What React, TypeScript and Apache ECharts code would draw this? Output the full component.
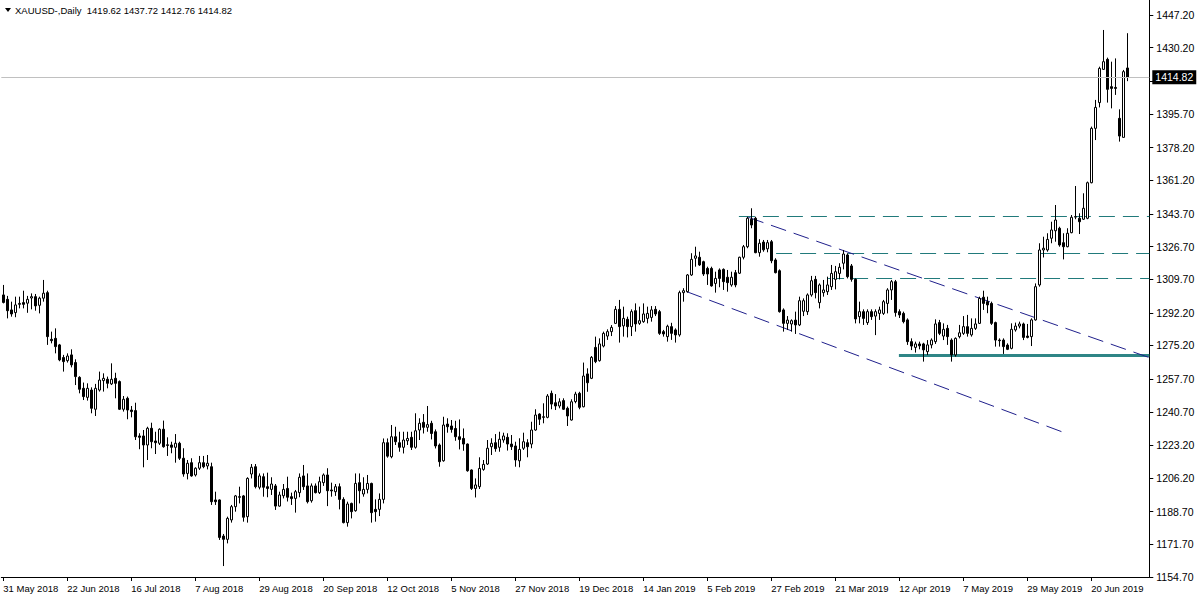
import React, { useEffect, useRef } from "react";
import * as echarts from "echarts";

// ---- OHLC data (XAUUSD daily, 31 May 2018 .. 3 Jul 2019) ----
const OPEN = [
  1301.5, 1299.2, 1293.7, 1292.3, 1296.6, 1297.5, 1297.2, 1299.9, 1300.6, 1296.1,
  1299.8, 1302.7, 1278.4, 1278.9, 1275.5, 1268.9, 1267.3, 1270.3, 1266.3, 1258.6,
  1252.9, 1248.2, 1252.0, 1242.0, 1252.0, 1256.9, 1257.6, 1255.2, 1258.1, 1256.4,
  1242.0, 1247.7, 1241.6, 1241.3, 1228.1, 1228.1, 1223.4, 1232.1, 1225.5, 1224.3,
  1231.6, 1223.5, 1223.4, 1222.2, 1224.3, 1216.5, 1208.6, 1214.2, 1207.8, 1211.3,
  1214.2, 1212.5, 1212.1, 1194.8, 1194.8, 1176.0, 1174.3, 1184.4, 1191.3, 1196.5,
  1196.9, 1186.1, 1208.3, 1212.1, 1201.4, 1206.9, 1201.7, 1200.3, 1202.1, 1191.6,
  1197.0, 1200.8, 1196.5, 1195.6, 1198.6, 1207.3, 1202.1, 1194.4, 1202.1, 1198.6,
  1203.8, 1207.8, 1200.0, 1199.1, 1201.7, 1195.1, 1183.0, 1193.0, 1189.2, 1203.8,
  1197.9, 1200.3, 1203.4, 1189.9, 1189.9, 1195.1, 1224.6, 1217.3, 1227.7, 1224.6,
  1222.2, 1225.6, 1227.4, 1222.2, 1231.2, 1235.2, 1232.6, 1234.7, 1230.3, 1223.4,
  1215.2, 1234.3, 1233.3, 1232.0, 1227.7, 1226.8, 1223.9, 1210.4, 1200.8, 1201.7,
  1210.7, 1213.5, 1222.5, 1224.6, 1222.2, 1226.0, 1227.4, 1223.9, 1222.9, 1215.2,
  1221.7, 1224.6, 1223.9, 1231.2, 1239.5, 1238.1, 1237.8, 1250.3, 1245.4, 1243.7,
  1246.5, 1242.5, 1236.4, 1246.0, 1250.3, 1243.3, 1260.4, 1258.1, 1274.2, 1267.3,
  1274.9, 1280.1, 1282.4, 1286.7, 1294.0, 1285.4, 1288.8, 1285.0, 1293.3, 1286.7,
  1287.6, 1289.3, 1289.8, 1294.0, 1292.8, 1282.4, 1279.8, 1285.0, 1283.3, 1280.7,
  1302.7, 1303.2, 1311.9, 1320.6, 1321.1, 1318.8, 1315.3, 1315.3, 1307.5, 1314.5,
  1314.8, 1310.7, 1306.7, 1313.1, 1312.8, 1321.1, 1326.6, 1340.9, 1341.4, 1323.5,
  1329.0, 1325.5, 1329.2, 1319.7, 1314.1, 1293.7, 1286.7, 1286.4, 1288.4, 1285.9,
  1293.0, 1292.8, 1301.5, 1309.6, 1297.5, 1302.7, 1303.2, 1305.8, 1309.6, 1312.7,
  1318.0, 1322.3, 1316.6, 1309.6, 1290.2, 1292.8, 1287.1, 1292.8, 1290.5, 1291.9,
  1291.9, 1297.1, 1304.1, 1308.4, 1292.8, 1291.9, 1288.5, 1277.2, 1274.2, 1276.0,
  1276.0, 1272.0, 1275.5, 1277.2, 1287.1, 1280.1, 1284.1, 1278.0, 1270.3, 1279.8,
  1281.5, 1285.0, 1280.7, 1284.1, 1286.7, 1300.3, 1298.0, 1297.1, 1287.1, 1278.0,
  1278.0, 1275.4, 1273.7, 1283.3, 1285.3, 1286.4, 1280.1, 1279.8, 1288.5, 1306.7,
  1324.9, 1324.9, 1331.0, 1334.9, 1336.2, 1328.7, 1326.6, 1333.9, 1342.0, 1341.4,
  1340.9, 1341.4, 1359.9, 1388.2, 1401.6, 1418.9, 1424.1, 1409.9, 1409.5, 1393.4,
  1383.5, 1419.62,
];
const HIGH = [
  1306.7, 1301.0, 1298.0, 1300.6, 1300.6, 1303.7, 1301.0, 1302.3, 1302.0, 1300.6,
  1309.3, 1303.7, 1282.4, 1284.1, 1276.0, 1270.3, 1271.1, 1273.2, 1268.0, 1259.2,
  1255.9, 1255.5, 1253.4, 1255.2, 1261.6, 1260.7, 1259.0, 1265.9, 1261.0, 1257.0,
  1248.9, 1248.6, 1243.7, 1245.4, 1229.5, 1231.2, 1232.9, 1235.0, 1230.3, 1232.1,
  1236.1, 1227.4, 1225.1, 1229.1, 1225.1, 1221.7, 1215.6, 1216.5, 1211.8, 1217.7,
  1217.7, 1218.2, 1214.2, 1199.1, 1195.1, 1177.1, 1186.1, 1192.2, 1197.4, 1201.7,
  1197.4, 1206.6, 1213.5, 1213.5, 1208.6, 1208.6, 1209.0, 1206.6, 1203.1, 1199.1,
  1203.1, 1206.9, 1198.6, 1200.0, 1208.6, 1213.0, 1208.6, 1203.4, 1203.4, 1206.9,
  1208.6, 1211.3, 1203.8, 1203.1, 1203.4, 1196.2, 1193.9, 1193.4, 1208.6, 1208.6,
  1206.6, 1207.8, 1203.8, 1195.1, 1198.2, 1226.8, 1226.8, 1233.8, 1232.9, 1230.3,
  1230.3, 1230.3, 1230.3, 1239.9, 1237.3, 1239.5, 1243.7, 1236.0, 1231.5, 1224.2,
  1238.1, 1237.3, 1236.4, 1236.0, 1236.7, 1232.0, 1224.2, 1210.7, 1206.0, 1217.0,
  1215.6, 1226.0, 1226.9, 1229.1, 1230.3, 1229.8, 1229.5, 1228.6, 1225.1, 1226.9,
  1229.8, 1226.4, 1235.5, 1242.0, 1239.9, 1245.1, 1249.9, 1251.7, 1249.9, 1247.7,
  1247.7, 1243.4, 1247.2, 1251.1, 1251.1, 1266.3, 1263.3, 1269.7, 1279.8, 1278.9,
  1282.4, 1283.6, 1285.8, 1295.7, 1298.9, 1295.4, 1290.2, 1294.0, 1297.1, 1295.4,
  1297.1, 1295.4, 1295.7, 1295.7, 1293.7, 1283.3, 1286.0, 1287.0, 1284.1, 1303.7,
  1305.0, 1312.4, 1323.2, 1326.6, 1324.0, 1319.3, 1316.2, 1316.2, 1313.6, 1315.3,
  1315.3, 1314.5, 1313.6, 1314.5, 1321.4, 1327.5, 1342.2, 1346.6, 1342.2, 1330.5,
  1330.1, 1330.1, 1330.1, 1320.6, 1314.8, 1294.5, 1290.5, 1288.8, 1292.8, 1300.6,
  1299.7, 1302.3, 1311.4, 1311.4, 1307.5, 1309.3, 1311.0, 1317.1, 1316.6, 1318.0,
  1324.9, 1323.2, 1317.6, 1310.1, 1298.0, 1294.0, 1294.0, 1294.0, 1294.0, 1295.4,
  1298.9, 1305.0, 1309.3, 1309.3, 1294.0, 1292.8, 1289.3, 1278.9, 1277.2, 1277.2,
  1276.6, 1278.0, 1278.9, 1288.8, 1288.5, 1286.7, 1285.9, 1278.9, 1279.4, 1285.9,
  1290.5, 1291.1, 1289.3, 1289.3, 1300.6, 1303.7, 1300.6, 1298.0, 1287.6, 1278.9,
  1278.9, 1276.3, 1286.7, 1287.1, 1287.6, 1287.1, 1286.4, 1289.3, 1307.5, 1328.4,
  1331.8, 1333.6, 1339.6, 1348.3, 1337.0, 1333.6, 1336.2, 1343.1, 1358.2, 1344.0,
  1354.4, 1360.5, 1389.1, 1403.0, 1420.3, 1439.4, 1425.0, 1422.9, 1424.6, 1398.1,
  1418.6, 1437.72,
];
const LOW = [
  1297.1, 1289.3, 1290.2, 1289.9, 1294.5, 1294.5, 1292.2, 1294.0, 1293.3, 1291.9,
  1298.0, 1275.5, 1276.3, 1271.1, 1267.0, 1261.6, 1266.3, 1263.8, 1254.6, 1250.3,
  1246.8, 1246.5, 1239.9, 1238.5, 1251.2, 1251.2, 1252.9, 1254.6, 1247.7, 1241.6,
  1240.8, 1236.8, 1237.8, 1226.0, 1221.2, 1211.8, 1215.6, 1221.7, 1218.7, 1223.4,
  1222.0, 1217.7, 1219.1, 1214.2, 1215.6, 1206.9, 1205.5, 1206.9, 1207.0, 1210.4,
  1211.3, 1210.7, 1192.2, 1192.2, 1174.0, 1160.4, 1172.2, 1183.0, 1188.7, 1193.0,
  1183.5, 1183.0, 1206.0, 1200.8, 1200.3, 1196.5, 1196.2, 1197.4, 1189.6, 1191.3,
  1195.6, 1194.0, 1192.2, 1188.2, 1196.2, 1200.0, 1193.0, 1193.4, 1198.2, 1197.9,
  1202.1, 1191.6, 1196.5, 1196.9, 1189.9, 1182.6, 1180.9, 1185.2, 1188.7, 1193.0,
  1196.5, 1198.2, 1183.0, 1183.5, 1186.4, 1193.0, 1216.8, 1216.5, 1223.4, 1219.9,
  1219.0, 1223.4, 1220.8, 1221.5, 1226.0, 1229.4, 1230.3, 1226.3, 1221.6, 1212.1,
  1214.7, 1229.8, 1229.8, 1225.6, 1221.1, 1220.4, 1209.5, 1200.0, 1196.1, 1200.5,
  1210.0, 1213.0, 1218.2, 1219.9, 1219.9, 1224.6, 1220.5, 1220.8, 1212.1, 1211.8,
  1220.8, 1217.0, 1221.7, 1230.8, 1233.8, 1234.7, 1237.3, 1242.0, 1241.6, 1242.5,
  1241.6, 1233.3, 1236.1, 1245.1, 1242.0, 1243.0, 1251.1, 1257.7, 1266.0, 1266.8,
  1274.2, 1278.1, 1280.1, 1286.4, 1276.7, 1279.8, 1279.4, 1280.1, 1282.4, 1285.9,
  1287.0, 1286.7, 1287.6, 1290.5, 1280.7, 1279.8, 1277.2, 1278.1, 1276.7, 1279.8,
  1298.0, 1302.7, 1311.4, 1316.2, 1316.6, 1311.4, 1306.7, 1305.8, 1302.7, 1305.5,
  1304.1, 1303.2, 1305.8, 1305.5, 1312.4, 1320.0, 1325.8, 1336.2, 1323.2, 1321.4,
  1324.0, 1323.7, 1318.0, 1312.7, 1292.3, 1282.4, 1283.3, 1282.4, 1281.2, 1285.3,
  1290.5, 1291.1, 1300.6, 1299.7, 1294.5, 1300.6, 1301.5, 1304.1, 1304.4, 1309.6,
  1314.8, 1310.1, 1308.4, 1286.7, 1286.7, 1285.9, 1285.9, 1288.5, 1280.6, 1288.5,
  1291.1, 1291.9, 1298.9, 1290.2, 1289.5, 1286.7, 1275.5, 1272.8, 1271.5, 1273.2,
  1266.8, 1270.3, 1273.7, 1276.0, 1280.6, 1278.0, 1275.5, 1266.8, 1269.4, 1278.9,
  1280.7, 1279.8, 1279.8, 1283.3, 1286.4, 1293.7, 1292.0, 1285.9, 1274.6, 1274.6,
  1270.8, 1272.8, 1273.2, 1282.4, 1284.1, 1278.0, 1278.9, 1274.9, 1288.1, 1305.8,
  1321.0, 1324.0, 1328.4, 1329.2, 1326.6, 1320.0, 1326.3, 1333.6, 1340.9, 1333.2,
  1340.5, 1340.9, 1359.6, 1382.1, 1399.1, 1418.6, 1401.6, 1398.6, 1405.6, 1381.3,
  1383.5, 1412.76,
];
const CLOSE = [
  1297.6, 1293.3, 1291.6, 1296.3, 1297.1, 1296.6, 1299.2, 1300.6, 1295.8, 1299.8,
  1302.4, 1279.8, 1277.7, 1274.6, 1267.7, 1266.8, 1269.7, 1265.1, 1259.0, 1252.4,
  1248.6, 1252.9, 1242.5, 1252.9, 1257.2, 1258.1, 1255.5, 1257.6, 1255.5, 1242.0,
  1247.2, 1241.6, 1240.8, 1227.7, 1227.4, 1223.4, 1232.1, 1225.1, 1224.6, 1231.6,
  1222.5, 1223.2, 1222.2, 1224.3, 1216.5, 1208.3, 1213.9, 1207.3, 1211.3, 1214.2,
  1212.1, 1213.9, 1193.9, 1193.9, 1175.3, 1174.3, 1185.2, 1191.3, 1196.9, 1196.2,
  1185.8, 1206.0, 1211.8, 1201.7, 1207.3, 1201.4, 1200.8, 1203.1, 1191.6, 1197.4,
  1200.3, 1196.2, 1195.5, 1199.1, 1206.6, 1201.7, 1193.9, 1202.1, 1198.6, 1204.3,
  1207.8, 1199.6, 1199.5, 1201.7, 1195.1, 1183.0, 1192.7, 1188.7, 1203.4, 1199.6,
  1200.3, 1203.4, 1188.2, 1188.7, 1195.1, 1224.6, 1217.6, 1227.7, 1225.1, 1222.2,
  1226.0, 1226.8, 1222.2, 1230.8, 1234.7, 1232.6, 1234.0, 1229.4, 1222.9, 1214.7,
  1233.8, 1232.9, 1231.5, 1227.7, 1226.3, 1223.9, 1210.0, 1200.8, 1202.6, 1211.2,
  1213.3, 1221.7, 1224.3, 1221.5, 1226.4, 1228.1, 1223.9, 1222.5, 1215.6, 1221.1,
  1225.1, 1222.5, 1231.2, 1239.0, 1236.8, 1237.8, 1248.9, 1244.7, 1243.7, 1245.9,
  1242.0, 1238.5, 1245.9, 1249.9, 1243.0, 1259.3, 1255.8, 1269.0, 1266.8, 1276.0,
  1281.5, 1282.4, 1284.6, 1294.0, 1285.0, 1289.3, 1285.0, 1292.8, 1286.4, 1288.1,
  1291.6, 1291.9, 1293.7, 1291.6, 1281.5, 1281.2, 1285.2, 1281.5, 1280.7, 1302.7,
  1303.7, 1311.9, 1320.0, 1321.8, 1317.1, 1312.4, 1312.4, 1306.2, 1310.1, 1310.1,
  1308.4, 1307.9, 1310.7, 1306.7, 1321.1, 1326.6, 1341.4, 1337.9, 1323.5, 1328.4,
  1325.0, 1328.7, 1319.3, 1313.1, 1292.8, 1286.7, 1288.4, 1288.1, 1285.9, 1298.5,
  1298.5, 1301.5, 1308.9, 1302.7, 1306.7, 1304.1, 1306.7, 1312.7, 1313.6, 1315.9,
  1322.8, 1311.0, 1309.6, 1289.0, 1292.8, 1289.3, 1292.8, 1290.2, 1292.8, 1293.7,
  1298.0, 1304.1, 1308.4, 1292.3, 1291.1, 1287.6, 1277.2, 1274.9, 1276.0, 1275.0,
  1272.9, 1275.5, 1278.0, 1286.4, 1281.5, 1283.6, 1279.8, 1270.3, 1278.9, 1281.8,
  1285.0, 1281.5, 1284.1, 1286.4, 1299.7, 1297.1, 1296.3, 1286.7, 1278.0, 1277.7,
  1274.6, 1273.2, 1283.6, 1285.3, 1286.4, 1279.4, 1279.4, 1288.5, 1305.8, 1324.9,
  1325.8, 1330.4, 1335.3, 1340.5, 1327.5, 1326.6, 1333.6, 1341.9, 1342.3, 1339.6,
  1346.6, 1359.9, 1388.2, 1399.1, 1419.4, 1422.9, 1408.5, 1409.0, 1409.0, 1384.2,
  1417.7, 1414.82,
];

// ---- axes ----
const START_DATE = [2018, 4, 31]; // 31 May 2018 (month 0-based)
const HOLIDAYS = ["2018-12-25", "2019-01-01", "2019-04-19"];
const MONTHS = ["Jan", "Feb", "Mar", "Apr", "May", "Jun", "Jul", "Aug", "Sep", "Oct", "Nov", "Dec"];
const LABEL_EVERY = 16;
const EMPTY_SLOTS = 5; // chart shift on the right
const Y_MIN = 1154.7;
const Y_MAX = 1455.0;
const Y_TICKS = [
  1154.7, 1171.7, 1188.7, 1206.2, 1223.2, 1240.7, 1257.7, 1275.2, 1292.2,
  1309.7, 1326.7, 1343.7, 1361.2, 1378.2, 1395.7, 1412.7, 1430.2, 1447.2,
];
// 1412.70 sits under the current-price box, so its text is not drawn
const Y_LABELS = Y_TICKS.filter((v) => v !== 1412.7);

// ---- drawn objects (x in bar index units, y in price) ----
const H_LEVELS = [
  { from: 183.9, price: 1342.32 },
  { from: 193.2, price: 1323.06 },
  { from: 206.2, price: 1310.05 },
];
const SUPPORT = { from: 223.9, price: 1269.98 };
const TREND_UPPER = [
  [186.25, 1341.9],
  [286.5, 1268.9],
];
const TREND_LOWER = [
  [170.85, 1303.2],
  [265.4, 1229.7],
];

const SYMBOL = "XAUUSD-,Daily";
const FONT = "Liberation Sans";

function buildDates(n: number): string[] {
  const out: string[] = [];
  const d = new Date(Date.UTC(START_DATE[0], START_DATE[1], START_DATE[2]));
  while (out.length < n) {
    const dow = d.getUTCDay();
    const iso = d.toISOString().slice(0, 10);
    if (dow !== 0 && dow !== 6 && !HOLIDAYS.includes(iso)) {
      out.push(`${d.getUTCDate()} ${MONTHS[d.getUTCMonth()]} ${d.getUTCFullYear()}`);
    }
    d.setUTCDate(d.getUTCDate() + 1);
  }
  return out;
}

export default function App() {
  const ref = useRef<HTMLDivElement>(null);

  useEffect(() => {
    if (!ref.current) return;
    const chart = echarts.init(ref.current, null, { renderer: "svg" });
    const n = OPEN.length;
    const dates = buildDates(n);
    const cats = dates.concat(Array.from({ length: EMPTY_SLOTS }, () => ""));
    const total = cats.length;
    const candles = OPEN.map((o, i) => [o, CLOSE[i], LOW[i], HIGH[i]]);
    const last = CLOSE[n - 1];
    const showLabel = (i: number) => i < n && i % LABEL_EVERY === 0;
    const teal = "#217a7b";
    const navy = "#20208c";
    const dash = [16, 8];

    const lineSeries = (data: number[][], color: string, width: number, type: any) => ({
      type: "line",
      xAxisIndex: 1,
      yAxisIndex: 0,
      data,
      showSymbol: false,
      symbol: "none",
      silent: true,
      lineStyle: { color, width, type },
      z: 3,
    });

    chart.setOption({
      animation: false,
      backgroundColor: "#ffffff",
      textStyle: { fontFamily: FONT },
      grid: { left: 1.3, right: 50.7, top: 0, bottom: 23 },
      xAxis: [
        {
          type: "category",
          data: cats,
          boundaryGap: true,
          axisLine: { show: true, onZero: false, lineStyle: { color: "#000", width: 1 } },
          axisTick: {
            show: true,
            alignWithLabel: true,
            interval: (i: number) => showLabel(i),
            length: 4,
            lineStyle: { color: "#000" },
          },
          axisLabel: {
            interval: (i: number) => showLabel(i),
            align: "left",
            margin: 6,
            color: "#000",
            fontFamily: FONT,
            fontSize: 9.5,
          },
          splitLine: { show: false },
        },
        {
          type: "value",
          min: -0.5,
          max: total - 0.5,
          show: false,
        },
      ],
      yAxis: {
        type: "value",
        position: "right",
        min: Y_MIN,
        max: Y_MAX,
        scale: true,
        axisLine: { show: true, onZero: false, lineStyle: { color: "#000", width: 1 } },
        axisTick: { show: true, length: 4, customValues: Y_TICKS, lineStyle: { color: "#000" } },
        axisLabel: {
          customValues: Y_LABELS,
          formatter: (v: number) => v.toFixed(2),
          margin: 7,
          color: "#000",
          fontFamily: FONT,
          fontSize: 10.5,
        },
        splitLine: { show: false },
      },
      series: [
        {
          type: "candlestick",
          xAxisIndex: 0,
          yAxisIndex: 0,
          data: candles,
          barWidth: 3,
          itemStyle: {
            color: "#ffffff",
            color0: "#000000",
            borderColor: "#000000",
            borderColor0: "#000000",
            borderWidth: 1,
          },
          z: 4,
          markLine: {
            silent: true,
            symbol: ["none", "none"],
            lineStyle: { color: "#c0c0c0", width: 1, type: "solid" },
            label: {
              show: true,
              position: "end",
              distance: 3,
              formatter: () => last.toFixed(2),
              backgroundColor: "#000",
              color: "#fff",
              padding: [2, 3, 1, 3],
              fontFamily: FONT,
              fontSize: 10.5,
            },
            data: [{ yAxis: last }],
          },
        },
        ...H_LEVELS.map((l) =>
          lineSeries(
            [
              [l.from, l.price],
              [total - 0.5, l.price],
            ],
            teal,
            1,
            dash
          )
        ),
        lineSeries(
          [
            [SUPPORT.from, SUPPORT.price],
            [total - 0.5, SUPPORT.price],
          ],
          "#2e8586",
          3,
          "solid"
        ),
        lineSeries(TREND_UPPER, navy, 1, dash),
        lineSeries(TREND_LOWER, navy, 1, dash),
      ],
      graphic: [
        {
          type: "polygon",
          shape: { points: [[5, 8], [11, 8], [8, 12]] },
          style: { fill: "#000" },
        },
        {
          type: "text",
          x: 15,
          y: 5,
          style: {
            text: `${SYMBOL}  ${OPEN[n - 1].toFixed(2)} ${HIGH[n - 1].toFixed(2)} ${LOW[n - 1].toFixed(2)} ${CLOSE[n - 1].toFixed(2)}`,
            fill: "#000",
            font: `9.5px "${FONT}"`,
          },
        },
      ],
    });
    return () => chart.dispose();
  }, []);

  return <div ref={ref} style={{ width: 1200, height: 600, position: "absolute", left: 0, top: 0 }} />;
}
